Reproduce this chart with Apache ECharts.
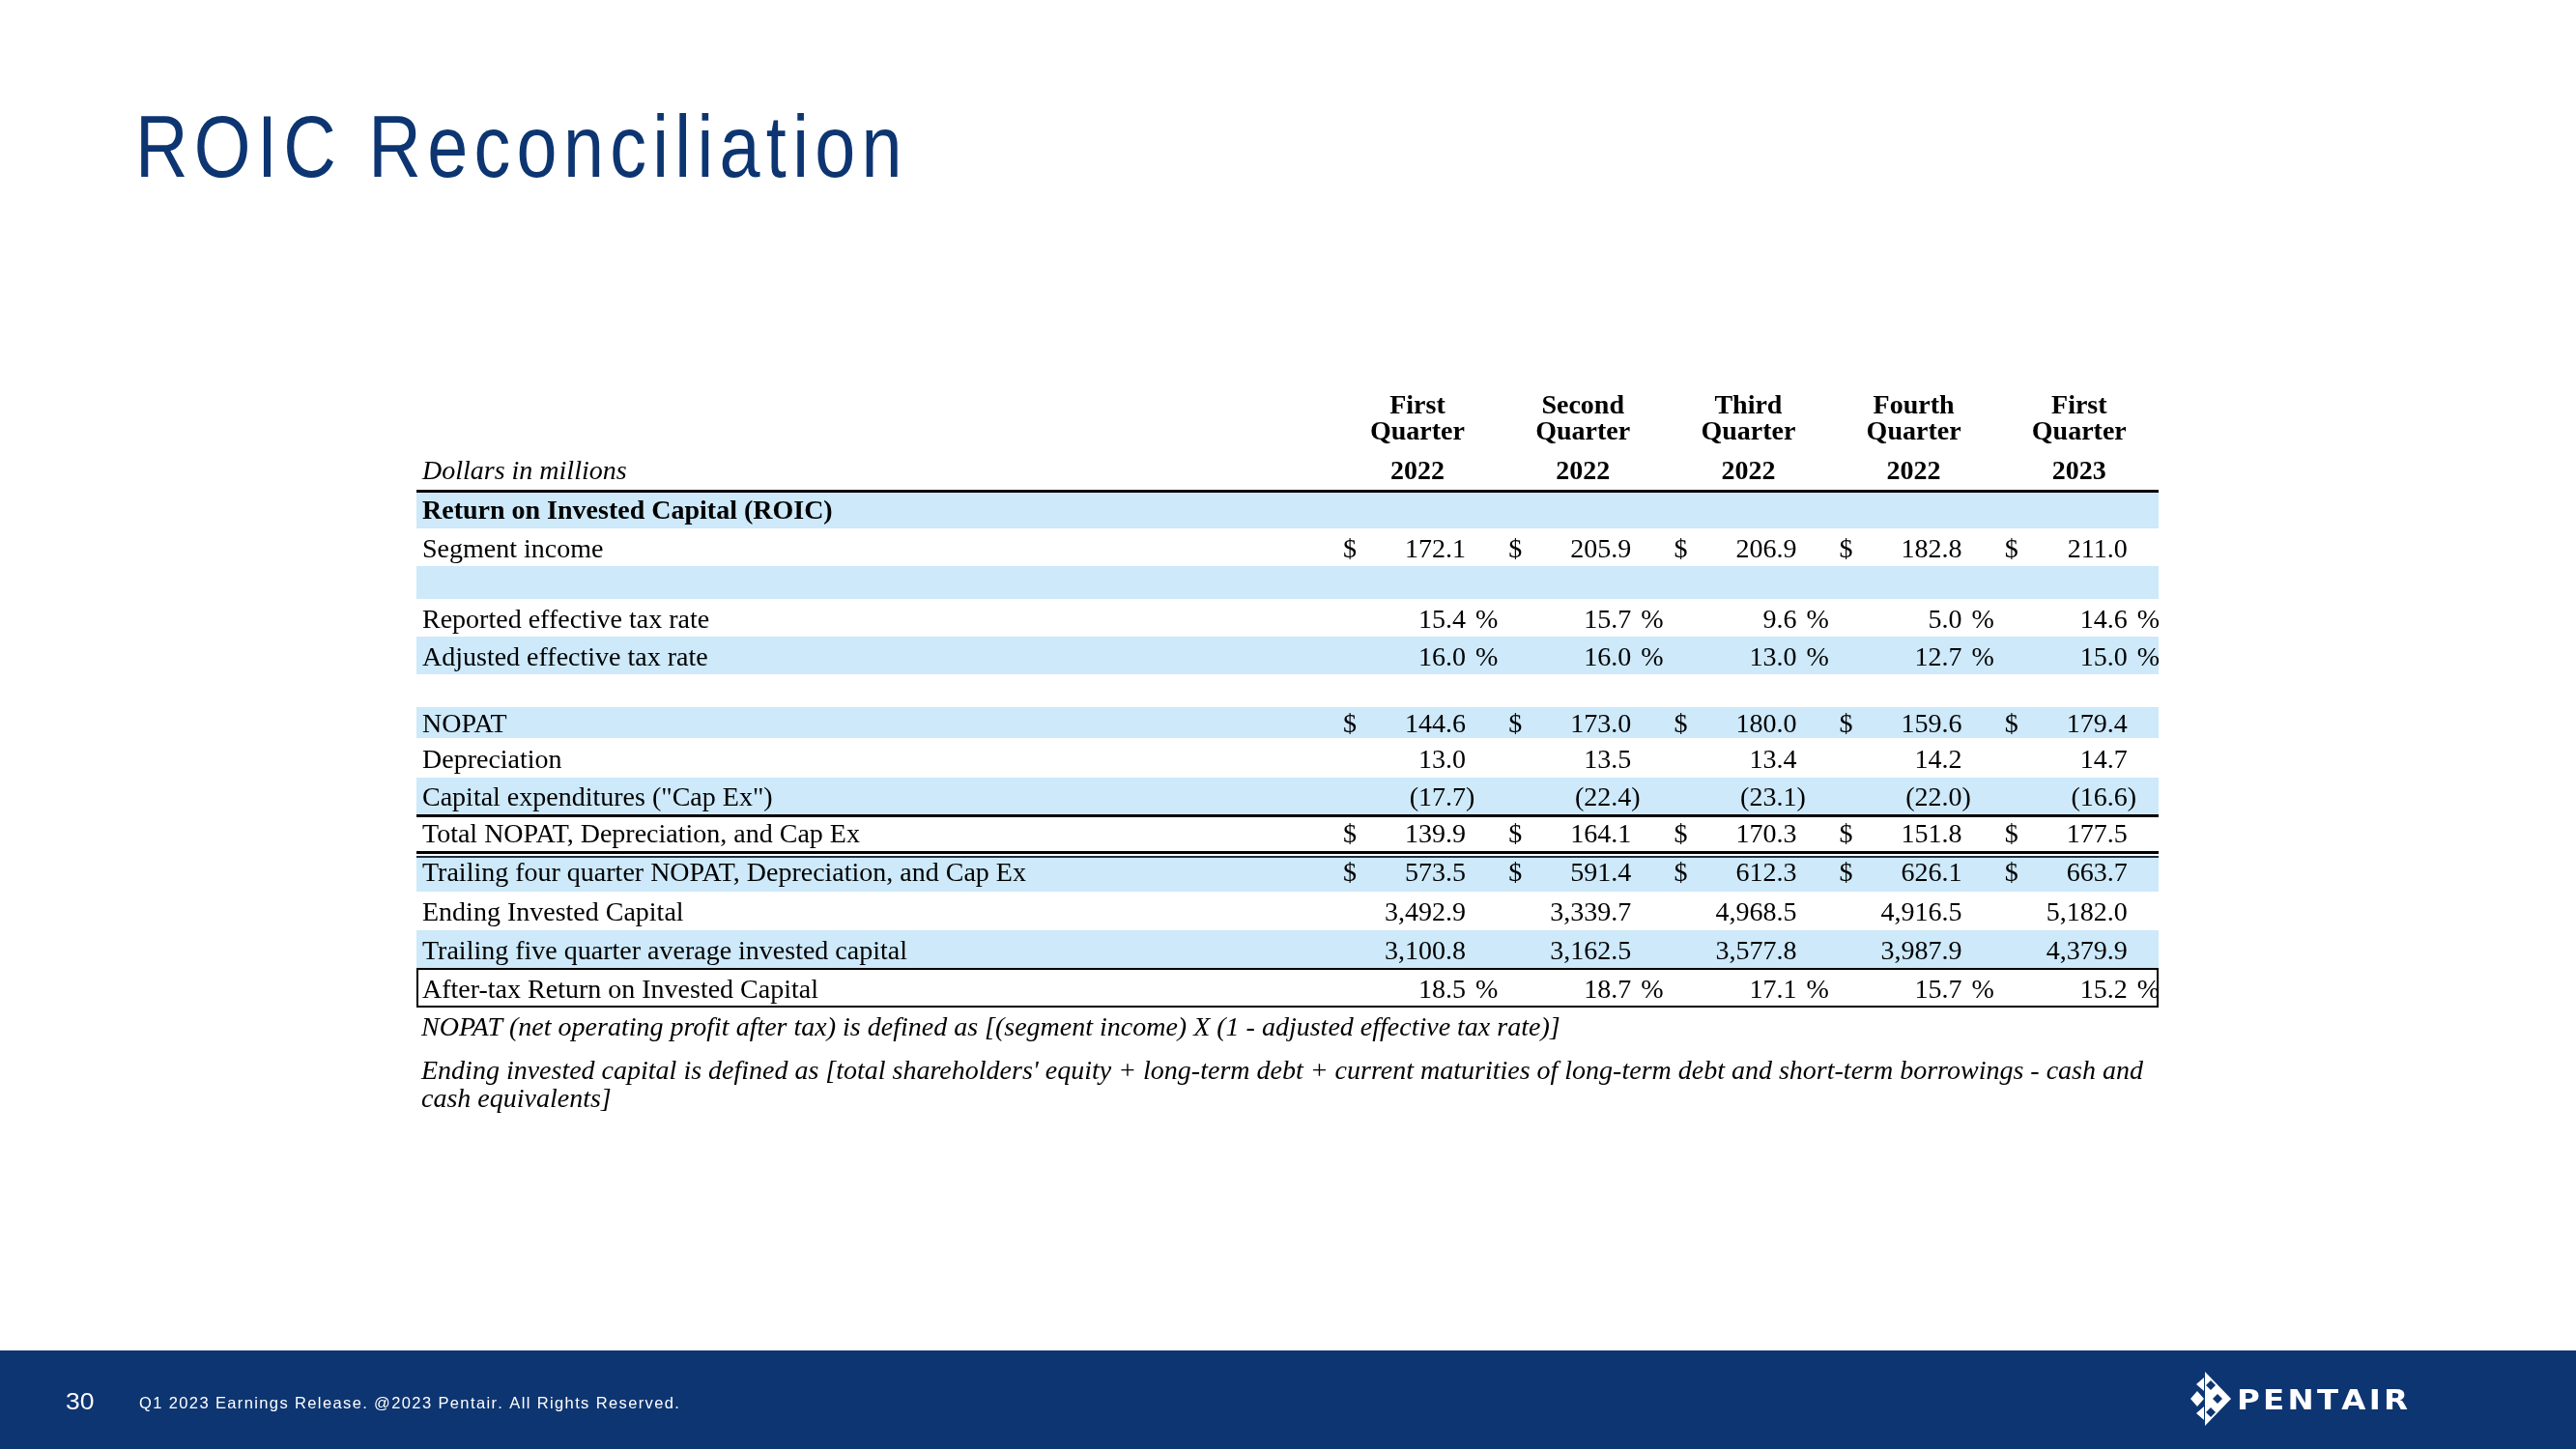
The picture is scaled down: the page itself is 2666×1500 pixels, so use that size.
<!DOCTYPE html>
<html>
<head>
<meta charset="utf-8">
<script src="https://cdn.jsdelivr.net/npm/echarts@6/dist/echarts.min.js"></script>
<style>
html,body{margin:0;padding:0;background:#fff;}
#chart{width:2666px;height:1500px;}
</style>
</head>
<body>
<div id="chart"></div>
<script>
// ---------------- DATA ----------------
const rowLabels = [
  'Return on Invested Capital (ROIC)',
  'Segment income',
  '',
  'Reported effective tax rate',
  'Adjusted effective tax rate',
  '',
  'NOPAT',
  'Depreciation',
  'Capital expenditures ("Cap Ex")',
  'Total NOPAT, Depreciation, and Cap Ex',
  'Trailing four quarter NOPAT, Depreciation, and Cap Ex',
  'Ending Invested Capital',
  'Trailing five quarter average invested capital',
  'After-tax Return on Invested Capital'
];
const rowKinds = ['section','dollar','blank','pct','pct','blank','dollar','plain','plain','dollar','dollar','plain','plain','pct'];

const quarterNames = ['First', 'Second', 'Third', 'Fourth', 'First'];
const quarterWord = ['Quarter', 'Quarter', 'Quarter', 'Quarter', 'Quarter'];
const quarterYears = ['2022', '2022', '2022', '2022', '2023'];
const captionText = 'Dollars in millions';

const segmentIncome          = [172.1, 205.9, 206.9, 182.8, 211.0];
const reportedTaxRate        = [15.4, 15.7, 9.6, 5.0, 14.6];
const adjustedTaxRate        = [16.0, 16.0, 13.0, 12.7, 15.0];
const nopat                  = [144.6, 173.0, 180.0, 159.6, 179.4];
const depreciation           = [13.0, 13.5, 13.4, 14.2, 14.7];
const capEx                  = [-17.7, -22.4, -23.1, -22.0, -16.6];
const totalNopat             = [139.9, 164.1, 170.3, 151.8, 177.5];
const trailingFourQuarter    = [573.5, 591.4, 612.3, 626.1, 663.7];
const endingInvestedCapital  = [3492.9, 3339.7, 4968.5, 4916.5, 5182.0];
const trailingFiveQuarterAvg = [3100.8, 3162.5, 3577.8, 3987.9, 4379.9];
const afterTaxRoic           = [18.5, 18.7, 17.1, 15.7, 15.2];

const rowValues = [null, segmentIncome, null, reportedTaxRate, adjustedTaxRate, null,
  nopat, depreciation, capEx, totalNopat, trailingFourQuarter, endingInvestedCapital,
  trailingFiveQuarterAvg, afterTaxRoic];

const titleText = 'ROIC Reconciliation';
const noteLines = [
  'NOPAT (net operating profit after tax) is defined as [(segment income) X (1 - adjusted effective tax rate)]',
  "Ending invested capital is defined as [total shareholders' equity + long-term debt + current maturities of long-term debt and short-term borrowings - cash and",
  'cash equivalents]'
];
const pageNumber = '30';
const footerText = 'Q1 2023 Earnings Release. @2023 Pentair. All Rights Reserved.';
const brandText = 'PENTAIR';

// ---------------- LAYOUT / STYLE ----------------
const TABLE = {left: 431, top: 507, width: 1803, height: 536};
const ROW_EDGES = [0, 40, 79, 113, 152, 191, 225, 257, 298, 336, 374, 416, 456, 495, 536];
const COL = {firstRight: 1086, step: 171.2, dollarOff: -127, pctOff: 10, headOff: -50, labelX: 6};
const HEAD_Y = [-89, -62, -21];
const TEXT_DY = 3;
const ruleRows = [0, 9, 10, 13];
const ruleKinds = ['thick', 'thick', 'double', 'box'];
const SERIF = '"Liberation Serif","Times New Roman",serif';
const SANS = '"Liberation Sans",Arial,sans-serif';
const FS = 28;
const BAND = '#cde9fa';
const NAVY = '#0d3571';
const HS = '\u200a';
const spaced = s => s.split('').join(HS);

const fmt = v => v.toLocaleString('en-US', {minimumFractionDigits: 1, maximumFractionDigits: 1});

function txt(p, text, extra) {
  return {
    type: 'text', x: p[0], y: p[1] + TEXT_DY,
    style: Object.assign({text: text, fill: '#000', fontSize: FS, fontFamily: SERIF,
      align: 'left', verticalAlign: 'middle'}, extra || {})
  };
}

// band + label per row
function renderBand(params, api) {
  const i = api.value(0);
  const y0 = ROW_EDGES[i], y1 = ROW_EDGES[i + 1];
  const p0 = api.coord([0, y0]);
  const p1 = api.coord([TABLE.width, y1]);
  const children = [];
  if (i % 2 === 0) {
    children.push({type: 'rect', shape: {x: p0[0], y: p0[1], width: p1[0] - p0[0], height: p1[1] - p0[1]},
      style: {fill: BAND}});
  }
  if (rowLabels[i]) {
    const pm = api.coord([COL.labelX, (y0 + y1) / 2]);
    children.push(txt(pm, rowLabels[i], {fontWeight: i === 0 ? 'bold' : 'normal'}));
  }
  return {type: 'group', children: children};
}

function renderCell(params, api) {
  const r = api.value(0), c = api.value(1), v = api.value(2);
  const kind = rowKinds[r];
  const yMid = (ROW_EDGES[r] + ROW_EDGES[r + 1]) / 2;
  const right = COL.firstRight + c * COL.step;
  const pR = api.coord([right, yMid]);
  const children = [];
  const s = fmt(Math.abs(v));
  children.push(txt(pR, v < 0 ? '(' + s : s, {align: 'right'}));
  if (v < 0) children.push(txt(pR, ')', {align: 'left'}));
  if (kind === 'dollar') children.push(txt(api.coord([right + COL.dollarOff, yMid]), '$'));
  if (kind === 'pct') children.push(txt(api.coord([right + COL.pctOff, yMid]), '%'));
  return {type: 'group', children: children};
}

function renderHeader(params, api) {
  const k = api.value(0);
  const cx = COL.firstRight + k * COL.step + COL.headOff;
  const bold = {fontWeight: 'bold', align: 'center'};
  return {type: 'group', children: [
    txt(api.coord([cx, HEAD_Y[0]]), quarterNames[k], bold),
    txt(api.coord([cx, HEAD_Y[1]]), quarterWord[k], bold),
    txt(api.coord([cx, HEAD_Y[2]]), quarterYears[k], bold)
  ]};
}

function renderCaption(params, api) {
  return txt(api.coord([COL.labelX, HEAD_Y[2]]), captionText, {fontStyle: 'italic'});
}

function renderRule(params, api) {
  const idx = params.dataIndex;
  const r = api.value(0);
  const kind = ruleKinds[idx];
  const pTop = api.coord([0, ROW_EDGES[r]]);
  const pBot = api.coord([TABLE.width, ROW_EDGES[r + 1]]);
  const w = pBot[0] - pTop[0];
  if (kind === 'thick') {
    return {type: 'rect', shape: {x: pTop[0], y: pTop[1], width: w, height: 3}, style: {fill: '#000'}};
  }
  if (kind === 'double') {
    return {type: 'group', children: [
      {type: 'rect', shape: {x: pTop[0], y: pTop[1], width: w, height: 3}, style: {fill: '#000'}},
      {type: 'rect', shape: {x: pTop[0], y: pTop[1] + 3, width: w, height: 2}, style: {fill: '#fff'}},
      {type: 'rect', shape: {x: pTop[0], y: pTop[1] + 5, width: w, height: 2}, style: {fill: '#1c2c44'}}
    ]};
  }
  return {type: 'rect', shape: {x: pTop[0] + 1, y: pTop[1] + 1, width: w - 2, height: pBot[1] - pTop[1] - 2},
    style: {fill: 'none', stroke: '#000', lineWidth: 2}};
}

const cellData = [];
rowValues.forEach((vals, r) => {
  if (!vals) return;
  vals.forEach((v, c) => cellData.push([r, c, v]));
});

const noteStyle = {fill: '#000', fontSize: FS, fontFamily: SERIF, fontStyle: 'italic', align: 'left', verticalAlign: 'middle'};

const chart = echarts.init(document.getElementById('chart'), null, {renderer: 'canvas'});
chart.setOption({
  backgroundColor: '#fff',
  animation: false,
  grid: {left: TABLE.left, top: TABLE.top, width: TABLE.width, height: TABLE.height},
  xAxis: {type: 'value', min: 0, max: TABLE.width, show: false},
  yAxis: {type: 'value', min: 0, max: ROW_EDGES[ROW_EDGES.length - 1], inverse: true, show: false},
  series: [
    {type: 'custom', name: 'bands', data: rowLabels.map((_, i) => [i]), renderItem: renderBand, clip: false, z: 1, silent: true},
    {type: 'custom', name: 'rules', data: ruleRows.map(r => [r]), renderItem: renderRule, clip: false, z: 3, silent: true},
    {type: 'custom', name: 'cells', data: cellData, renderItem: renderCell, clip: false, z: 4, silent: true},
    {type: 'custom', name: 'header', data: quarterNames.map((_, k) => [k]), renderItem: renderHeader, clip: false, z: 4, silent: true},
    {type: 'custom', name: 'caption', data: [[0]], renderItem: renderCaption, clip: false, z: 4, silent: true}
  ],
  graphic: [
    {type: 'text', x: 140, y: 158, scaleX: 0.83, style: {text: spaced(titleText), fill: NAVY, fontSize: 91,
      fontFamily: SANS, align: 'left', verticalAlign: 'middle'}},
    {type: 'text', x: 436, y: 1062 + TEXT_DY, style: Object.assign({text: noteLines[0]}, noteStyle)},
    {type: 'text', x: 436, y: 1107 + TEXT_DY, style: Object.assign({text: noteLines[1]}, noteStyle)},
    {type: 'text', x: 436, y: 1136 + TEXT_DY, style: Object.assign({text: noteLines[2]}, noteStyle)},
    {type: 'rect', shape: {x: 0, y: 1398, width: 2666, height: 102}, style: {fill: NAVY}},
    {type: 'text', x: 68, y: 1453, scaleX: 1.15, style: {text: pageNumber, fill: '#fff', fontSize: 23, fontFamily: SANS,
      align: 'left', verticalAlign: 'middle'}},
    {type: 'text', x: 144, y: 1453, style: {text: spaced(footerText), fill: '#fff', fontSize: 16.5, fontFamily: SANS,
      align: 'left', verticalAlign: 'middle'}},
    // logo mark
    {type: 'polygon', shape: {points: [[2282, 1420], [2309, 1448], [2282, 1476]]}, style: {fill: '#fff'}},
    {type: 'polygon', shape: {points: [[2267, 1448], [2274, 1440], [2281, 1448], [2274, 1456]]}, style: {fill: '#fff'}},
    {type: 'polygon', shape: {points: [[2273, 1433], [2281, 1426], [2281, 1440]]}, style: {fill: '#fff'}},
    {type: 'polygon', shape: {points: [[2273, 1463], [2281, 1456], [2281, 1470]]}, style: {fill: '#fff'}},
    {type: 'polygon', shape: {points: [[2283, 1434], [2288, 1429], [2293, 1434], [2288, 1439]]}, style: {fill: NAVY}},
    {type: 'polygon', shape: {points: [[2283, 1462], [2288, 1457], [2293, 1462], [2288, 1467]]}, style: {fill: NAVY}},
    {type: 'polygon', shape: {points: [[2290, 1448], [2295, 1443], [2300, 1448], [2295, 1453]]}, style: {fill: NAVY}},
    {type: 'text', x: 2315, y: 1451, scaleX: 1.12, style: {text: spaced(brandText), fill: '#fff', fontSize: 29,
      fontWeight: 'bold', fontFamily: '"DejaVu Sans",sans-serif', align: 'left', verticalAlign: 'middle'}}
  ]
});
</script>
</body>
</html>
